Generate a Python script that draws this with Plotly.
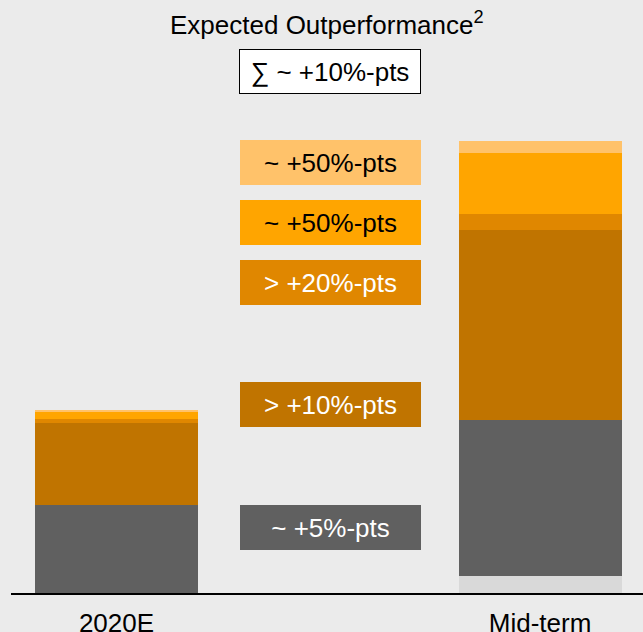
import plotly.graph_objects as go

# ---- data ----
categories = ["2020E", "Mid-term"]
cat_pos = [0, 1]
seg_light_gray = [0, 17]
seg_gray = [88, 156]
seg_brown = [82, 190]
seg_dark_orange = [4, 16]
seg_orange = [7, 61]
seg_light_orange = [2, 12]

label_texts = ["~ +50%-pts", "~ +50%-pts", "> +20%-pts", "> +10%-pts", "~ +5%-pts"]
title_text = "Expected Outperformance<sup>2</sup>"
sum_text = "∑ ~ +10%-pts"

# ---- styles ----
BG = "#EBEBEB"
C_LGRAY = "#D9D9D9"
C_GRAY = "#606060"
C_BROWN = "#C07400"
C_DORANGE = "#E08700"
C_ORANGE = "#FFA500"
C_LORANGE = "#FFC26A"

W, H = 643, 632
ML, MB = 11, 39
PW, PH = W - ML, H - MB

series = [
    (seg_light_gray, C_LGRAY),
    (seg_gray, C_GRAY),
    (seg_brown, C_BROWN),
    (seg_dark_orange, C_DORANGE),
    (seg_orange, C_ORANGE),
    (seg_light_orange, C_LORANGE),
]

fig = go.Figure()
for vals, col in series:
    fig.add_trace(go.Bar(x=cat_pos, y=vals, marker=dict(color=col, line=dict(width=0)),
                         width=0.385, showlegend=False, hoverinfo="skip"))


def px_x(px):
    return (px - ML) / PW


def px_y(py):
    return (PH - py) / PH


font = "Liberation Sans, Arial, sans-serif"
FS = 26

# label boxes (pixel positions of box centres)
box_specs = [
    (162, C_LORANGE, "black"),
    (222.5, C_ORANGE, "black"),
    (282.5, C_DORANGE, "white"),
    (404.5, C_BROWN, "white"),
    (527.5, C_GRAY, "white"),
]
annotations = []
for txt, (cy, bg, fc) in zip(label_texts, box_specs):
    annotations.append(dict(
        x=px_x(330.5), y=px_y(cy), xref="paper", yref="paper",
        xanchor="center", yanchor="middle", text=txt, showarrow=False,
        width=181, height=45, bgcolor=bg, borderpad=0, borderwidth=0,
        font=dict(family=font, size=FS, color=fc), align="center", valign="middle"))

annotations.append(dict(
    x=px_x(330), y=px_y(71.5), xref="paper", yref="paper",
    xanchor="center", yanchor="middle", text=sum_text, showarrow=False,
    width=180, height=43, bgcolor="white", bordercolor="black", borderwidth=1, borderpad=0,
    font=dict(family=font, size=FS, color="black"), align="center", valign="middle"))

annotations.append(dict(
    x=px_x(327), y=px_y(24), xref="paper", yref="paper",
    xanchor="center", yanchor="middle", text=title_text, showarrow=False,
    font=dict(family=font, size=FS, color="black")))

fig.update_layout(
    width=W, height=H,
    margin=dict(l=ML, r=0, t=0, b=MB, pad=0, autoexpand=False),
    paper_bgcolor=BG, plot_bgcolor=BG,
    barmode="stack", bargap=0,
    annotations=annotations,
    xaxis=dict(range=[-0.249, 1.243], tickvals=cat_pos, ticktext=categories,
               showline=True, linecolor="black", linewidth=2, showgrid=False,
               zeroline=False, ticks="", ticklabelstandoff=6, automargin=False,
               tickfont=dict(family=font, size=FS, color="black")),
    yaxis=dict(range=[0, PH], visible=False, showgrid=False, zeroline=False, automargin=False),
)

fig.write_html("out.html", config={"displayModeBar": False},
               post_script="document.body.style.margin='0';document.body.style.overflow='hidden';")
